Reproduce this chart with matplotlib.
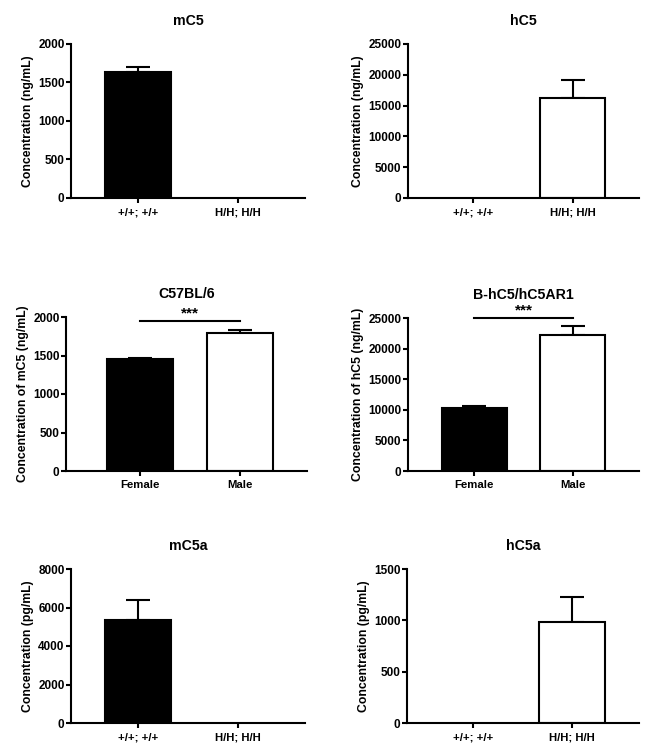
import matplotlib
matplotlib.use("Agg")
import matplotlib.pyplot as plt

plt.rcParams['font.family'] = ['Liberation Sans', 'DejaVu Sans']
plt.rcParams['font.weight'] = 'bold'

W, H = 651, 755

geno_labels = ["+/+; +/+", "H/H; H/H"]
sex_labels = ["Female", "Male"]

mC5_values = [1630, 0]
mC5_errors = [70, 0]
hC5_values = [0, 16200]
hC5_errors = [0, 2900]
c57_values = [1458, 1790]
c57_errors = [12, 40]
bhc5_values = [10300, 22300]
bhc5_errors = [300, 1400]
mC5a_values = [5350, 0]
mC5a_errors = [1050, 0]
hC5a_values = [0, 985]
hC5a_errors = [0, 245]

panels = [
    dict(title="mC5", labels=geno_labels, vals=mC5_values, errs=mC5_errors,
         ylabel="Concentration (ng/mL)", ymax=2000, step=500,
         box=(71, 305, 44, 198), xlim=(-0.67, 1.67), sig=None),
    dict(title="hC5", labels=geno_labels, vals=hC5_values, errs=hC5_errors,
         ylabel="Concentration (ng/mL)", ymax=25000, step=5000,
         box=(408, 639, 44, 198), xlim=(-0.66, 1.67), sig=None),
    dict(title="C57BL/6", labels=sex_labels, vals=c57_values, errs=c57_errors,
         ylabel="Concentration of mC5 (ng/mL)", ymax=2000, step=500,
         box=(66, 307, 317, 471), xlim=(-0.74, 1.67), sig=1950),
    dict(title="B-hC5/hC5AR1", labels=sex_labels, vals=bhc5_values, errs=bhc5_errors,
         ylabel="Concentration of hC5 (ng/mL)", ymax=25000, step=5000,
         box=(408, 639, 318, 471), xlim=(-0.67, 1.67), sig=25000),
    dict(title="mC5a", labels=geno_labels, vals=mC5a_values, errs=mC5a_errors,
         ylabel="Concentration (pg/mL)", ymax=8000, step=2000,
         box=(71, 305, 569, 723), xlim=(-0.67, 1.67), sig=None),
    dict(title="hC5a", labels=geno_labels, vals=hC5a_values, errs=hC5a_errors,
         ylabel="Concentration (pg/mL)", ymax=1500, step=500,
         box=(407, 639, 569, 723), xlim=(-0.66, 1.67), sig=None),
]

fig = plt.figure(figsize=(W / 100, H / 100), dpi=100)
lw = 1.5
colors = ["black", "white"]

for p in panels:
    l, r, t, b = p["box"]
    ax = fig.add_axes([l / W, 1 - b / H, (r - l) / W, (b - t) / H])
    x = list(range(len(p["labels"])))
    for i in x:
        v = p["vals"][i]
        e = p["errs"][i]
        if v > 0:
            ax.bar(i, v, width=0.66, color=colors[i], edgecolor="black",
                   linewidth=lw, zorder=2)
            ax.errorbar(i, v, yerr=[[0], [e]], fmt="none", ecolor="black",
                        elinewidth=lw, capsize=8.5, capthick=lw, zorder=1)
    ax.set_xlim(*p["xlim"])
    ax.set_ylim(0, p["ymax"])
    ax.set_yticks(list(range(0, p["ymax"] + 1, p["step"])))
    ax.set_xticks(x)
    ax.set_xticklabels(p["labels"], fontsize=8.2, fontweight="bold")
    for lab in ax.get_yticklabels():
        lab.set_fontsize(8.5)
        lab.set_fontweight("bold")
    ax.set_ylabel(p["ylabel"], fontsize=8.8, fontweight="bold", labelpad=3)
    ax.set_title(p["title"], fontsize=10.2, fontweight="bold", pad=14)
    for s in ["top", "right"]:
        ax.spines[s].set_visible(False)
    for s in ["left", "bottom"]:
        ax.spines[s].set_linewidth(lw)
    ax.tick_params(axis="both", width=lw, length=3.6)
    ax.tick_params(axis="y", pad=1)
    ax.tick_params(axis="x", pad=3)
    if p["sig"] is not None:
        ax.plot([0, 1], [p["sig"], p["sig"]], color="black", lw=lw,
                clip_on=False, zorder=3)
        ax.annotate("***", xy=(0.5, p["sig"]), xytext=(0, 2.5),
                    textcoords="offset points", ha="center", va="baseline",
                    fontsize=11, fontweight="bold", annotation_clip=False)

fig.savefig("out.png", dpi=100)
